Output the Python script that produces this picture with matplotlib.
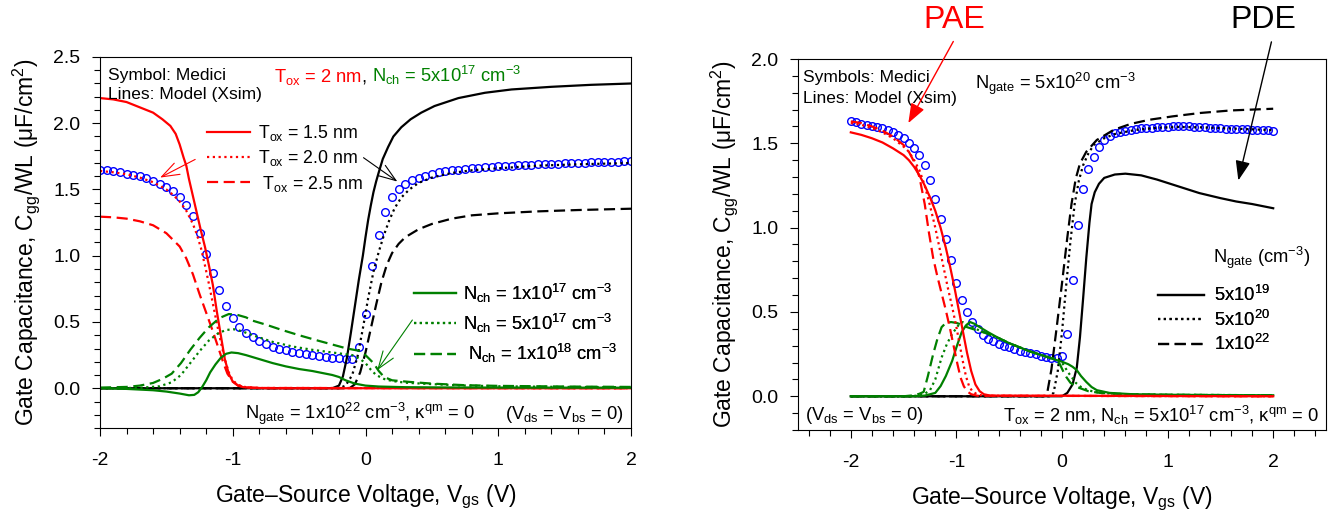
import numpy as np
import matplotlib
matplotlib.use('Agg')
import matplotlib.pyplot as plt
from matplotlib.lines import Line2D
from matplotlib.ticker import MultipleLocator, FormatStrFormatter

plt.rcParams['font.family'] = ['Liberation Sans', 'DejaVu Sans']
plt.rcParams['mathtext.fontset'] = 'custom'
plt.rcParams['mathtext.rm'] = 'Liberation Sans'
plt.rcParams['mathtext.it'] = 'Liberation Sans:italic'
plt.rcParams['mathtext.bf'] = 'Liberation Sans:bold'
plt.rcParams['mathtext.default'] = 'regular'
plt.rcParams['axes.unicode_minus'] = False

RED, GREEN, BLUE = '#ff0000', '#008000', '#0000ff'
DOT = (0, (1, 1.6))
DASH = (0, (5, 2.5))

# Medici sweep (symbols), same Vgs grid in both panels
vgs_medici = np.round(np.arange(-2.0, 2.001, 0.05), 2)

# ---------------- left panel: Tox / Nch sweep ----------------
cgg_medici_left = [1.65, 1.645, 1.64, 1.63, 1.62, 1.61, 1.60, 1.585, 1.565, 1.545,
                   1.52, 1.485, 1.44, 1.38, 1.30, 1.17, 1.01, 0.87, 0.74, 0.62,
                   0.53, 0.46, 0.42, 0.39, 0.36, 0.335, 0.315, 0.30, 0.285, 0.275,
                   0.265, 0.255, 0.248, 0.24, 0.235, 0.23, 0.225, 0.22, 0.22, 0.31,
                   0.56, 0.92, 1.16, 1.33, 1.44, 1.50, 1.54, 1.57, 1.59, 1.605,
                   1.62, 1.63, 1.64, 1.645, 1.65, 1.655, 1.66, 1.665, 1.67, 1.672,
                   1.675, 1.678, 1.68, 1.683, 1.685, 1.688, 1.69, 1.692, 1.694, 1.696,
                   1.698, 1.70, 1.702, 1.703, 1.705, 1.706, 1.708, 1.709, 1.71, 1.712,
                   1.713]

# accumulation (red), Tox = 1.5 / 2.0 / 2.5 nm
v_acc_15 = [-2.0, -1.9, -1.8, -1.7, -1.6, -1.53, -1.47, -1.43, -1.40, -1.37, -1.35, -1.33, -1.30, -1.27,
            -1.24, -1.21, -1.18, -1.15, -1.12, -1.09, -1.06, -1.03, -1.00, -0.96, -0.92, -0.85, -0.7, 2.0]
c_acc_15 = [2.19, 2.18, 2.16, 2.12, 2.08, 2.03, 1.98, 1.92, 1.84, 1.74, 1.68, 1.58, 1.45, 1.32,
            1.19, 1.07, 0.93, 0.78, 0.58, 0.40, 0.22, 0.11, 0.05, 0.02, 0.008, 0.003, 0.0, 0.0]
v_acc_20 = [-2.0, -1.9, -1.8, -1.7, -1.6, -1.5, -1.45, -1.4, -1.35, -1.3, -1.27, -1.24, -1.21, -1.18,
            -1.15, -1.12, -1.09, -1.06, -1.03, -1.0, -0.96, -0.9, -0.8, 2.0]
c_acc_20 = [1.64, 1.63, 1.615, 1.59, 1.555, 1.50, 1.46, 1.41, 1.34, 1.24, 1.16, 1.06, 0.93, 0.79,
            0.64, 0.49, 0.35, 0.22, 0.12, 0.06, 0.025, 0.008, 0.002, 0.0]
v_acc_25 = [-2.0, -1.9, -1.8, -1.7, -1.6, -1.55, -1.5, -1.45, -1.4, -1.35, -1.3, -1.25, -1.2, -1.15,
            -1.1, -1.07, -1.04, -1.0, -0.96, -0.9, -0.8, 2.0]
c_acc_25 = [1.295, 1.29, 1.28, 1.26, 1.23, 1.20, 1.17, 1.12, 1.07, 0.98, 0.86, 0.71, 0.57, 0.43,
            0.28, 0.19, 0.11, 0.05, 0.02, 0.007, 0.002, 0.0]

# inversion (black), Tox = 1.5 / 2.0 / 2.5 nm
v_inv_15 = [-2.0, -0.25, -0.2, -0.17, -0.14, -0.11, -0.08, -0.05, -0.02, 0.0, 0.02, 0.04, 0.06, 0.08,
            0.1, 0.13, 0.17, 0.21, 0.27, 0.34, 0.42, 0.52, 0.7, 0.9, 1.1, 1.4, 1.7, 2.0]
c_inv_15 = [0.0, 0.0, 0.02, 0.09, 0.23, 0.42, 0.62, 0.82, 1.0, 1.14, 1.27, 1.38, 1.48, 1.56,
            1.63, 1.73, 1.82, 1.90, 1.97, 2.03, 2.08, 2.13, 2.19, 2.23, 2.255, 2.275, 2.29, 2.30]
v_inv_20 = [-2.0, -0.2, -0.15, -0.1, -0.06, -0.02, 0.02, 0.06, 0.1, 0.14, 0.18, 0.22, 0.27, 0.33,
            0.4, 0.5, 0.65, 0.8, 1.0, 1.3, 1.6, 2.0]
c_inv_20 = [0.0, 0.0, 0.02, 0.1, 0.24, 0.45, 0.68, 0.88, 1.03, 1.16, 1.27, 1.36, 1.44, 1.50,
            1.55, 1.59, 1.625, 1.645, 1.66, 1.68, 1.69, 1.70]
v_inv_25 = [-2.0, -0.12, -0.08, -0.04, 0.0, 0.04, 0.08, 0.12, 0.16, 0.2, 0.25, 0.3, 0.4, 0.5,
            0.65, 0.8, 1.0, 1.3, 1.6, 2.0]
c_inv_25 = [0.0, 0.0, 0.03, 0.12, 0.27, 0.45, 0.63, 0.80, 0.93, 1.02, 1.09, 1.14, 1.20, 1.24,
            1.28, 1.305, 1.32, 1.335, 1.345, 1.355]

# depletion (green), Nch = 1e17 / 5e17 / 1e18
v_dep_1e17 = [-2.0, -1.8, -1.6, -1.5, -1.4, -1.33, -1.29, -1.26, -1.23, -1.2, -1.17, -1.13, -1.09,
              -1.05, -1.01, -0.96, -0.9, -0.8, -0.7, -0.6, -0.5, -0.4, -0.3, -0.25, -0.2, -0.15,
              -0.08, 0.0, 0.1, 0.3, 0.6, 1.0, 2.0]
c_dep_1e17 = [0.0, -0.005, -0.015, -0.025, -0.04, -0.053, -0.05, -0.03, 0.01, 0.06, 0.12, 0.18, 0.23,
              0.26, 0.27, 0.265, 0.25, 0.22, 0.19, 0.165, 0.145, 0.13, 0.11, 0.10, 0.085, 0.06,
              0.035, 0.02, 0.013, 0.008, 0.006, 0.005, 0.004]
v_dep_5e17 = [-2.0, -1.7, -1.55, -1.46, -1.39, -1.32, -1.25, -1.18, -1.11, -1.05, -0.99, -0.93, -0.85,
              -0.7, -0.55, -0.4, -0.25, -0.1, -0.04, 0.0, 0.04, 0.08, 0.14, 0.2, 0.3, 0.46, 0.7, 1.0,
              1.5, 2.0]
c_dep_5e17 = [0.0, 0.003, 0.015, 0.045, 0.10, 0.19, 0.28, 0.36, 0.415, 0.44, 0.445, 0.43, 0.40,
              0.35, 0.315, 0.29, 0.27, 0.25, 0.22, 0.19, 0.14, 0.10, 0.07, 0.055, 0.042, 0.033, 0.022,
              0.015, 0.01, 0.008]
v_dep_1e18 = [-2.0, -1.8, -1.7, -1.6, -1.53, -1.46, -1.39, -1.32, -1.25, -1.18, -1.1, -1.03, -0.97,
              -0.9, -0.85, -0.75, -0.63, -0.5, -0.36, -0.25, -0.14, -0.06, -0.03, 0.0, 0.03, 0.06,
              0.1, 0.14, 0.2, 0.33, 0.5, 0.75, 1.0, 1.5, 2.0]
c_dep_1e18 = [0.005, 0.01, 0.02, 0.04, 0.07, 0.11, 0.19, 0.29, 0.38, 0.46, 0.53, 0.56, 0.555,
              0.535, 0.51, 0.48, 0.44, 0.40, 0.36, 0.33, 0.30, 0.285, 0.275, 0.25, 0.22, 0.19,
              0.13, 0.085, 0.06, 0.048, 0.035, 0.023, 0.018, 0.013, 0.01]

# ---------------- right panel: Ngate sweep ----------------
cgg_medici_right = [1.63, 1.625, 1.615, 1.61, 1.60, 1.595, 1.59, 1.58, 1.565, 1.55,
                    1.53, 1.50, 1.47, 1.43, 1.37, 1.28, 1.17, 1.05, 0.93, 0.81,
                    0.67, 0.57, 0.50, 0.44, 0.40, 0.365, 0.34, 0.325, 0.31, 0.30,
                    0.29, 0.28, 0.27, 0.262, 0.255, 0.248, 0.24, 0.235, 0.228, 0.224,
                    0.24, 0.37, 0.69, 1.015, 1.23, 1.345, 1.42, 1.48, 1.52, 1.545,
                    1.56, 1.57, 1.575, 1.58, 1.585, 1.588, 1.59, 1.593, 1.595, 1.597,
                    1.598, 1.60, 1.60, 1.60, 1.60, 1.598, 1.597, 1.595, 1.593, 1.59,
                    1.588, 1.587, 1.585, 1.584, 1.583, 1.582, 1.58, 1.579, 1.578, 1.577,
                    1.575]

v_acc_5e19 = [-2.0, -1.9, -1.8, -1.7, -1.6, -1.5, -1.45, -1.4, -1.35, -1.3, -1.25, -1.2, -1.15,
              -1.1, -1.06, -1.02, -0.98, -0.94, -0.9, -0.86, -0.82, -0.78, -0.74, -0.68, 2.0]
c_acc_5e19 = [1.565, 1.55, 1.53, 1.505, 1.47, 1.43, 1.40, 1.36, 1.31, 1.25, 1.18, 1.10, 1.00,
              0.88, 0.77, 0.65, 0.52, 0.39, 0.26, 0.15, 0.07, 0.03, 0.012, 0.004, 0.0]
v_acc_5e20 = [-2.0, -1.9, -1.8, -1.7, -1.6, -1.5, -1.45, -1.4, -1.35, -1.3, -1.25, -1.2, -1.16,
              -1.12, -1.08, -1.04, -1.0, -0.97, -0.94, -0.91, -0.88, -0.85, -0.8, -0.74, 2.0]
c_acc_5e20 = [1.62, 1.61, 1.59, 1.565, 1.53, 1.48, 1.45, 1.40, 1.34, 1.25, 1.13, 1.00, 0.88,
              0.76, 0.64, 0.53, 0.41, 0.31, 0.21, 0.12, 0.06, 0.03, 0.01, 0.003, 0.0]
v_acc_1e22 = [-2.0, -1.9, -1.8, -1.7, -1.6, -1.5, -1.45, -1.4, -1.35, -1.3, -1.26, -1.22, -1.18,
              -1.14, -1.1, -1.06, -1.02, -0.99, -0.96, -0.93, -0.9, -0.86, -0.8, 2.0]
c_acc_1e22 = [1.63, 1.62, 1.60, 1.575, 1.54, 1.49, 1.45, 1.39, 1.30, 1.14, 0.97, 0.82, 0.71,
              0.61, 0.51, 0.40, 0.28, 0.19, 0.11, 0.06, 0.03, 0.012, 0.003, 0.0]

v_inv_5e19 = [-2.0, 0.0, 0.05, 0.1, 0.14, 0.17, 0.2, 0.23, 0.26, 0.28, 0.31, 0.35, 0.4, 0.5, 0.6,
              0.75, 0.9, 1.0, 1.15, 1.3, 1.5, 1.65, 1.8, 2.0]
c_inv_5e19 = [0.0, 0.0, 0.02, 0.07, 0.17, 0.35, 0.58, 0.82, 1.03, 1.14, 1.21, 1.26, 1.295, 1.315,
              1.32, 1.31, 1.285, 1.265, 1.235, 1.205, 1.175, 1.155, 1.14, 1.115]
v_inv_5e20 = [-2.0, -0.12, -0.08, -0.04, 0.0, 0.04, 0.08, 0.12, 0.16, 0.2, 0.25, 0.3, 0.4, 0.5,
              0.7, 0.9, 1.1, 1.3, 1.6, 2.0]
c_inv_5e20 = [0.0, 0.0, 0.02, 0.15, 0.38, 0.66, 0.92, 1.14, 1.28, 1.37, 1.44, 1.49, 1.53, 1.555,
              1.58, 1.592, 1.597, 1.595, 1.588, 1.578]
v_inv_1e22 = [-2.0, -0.17, -0.14, -0.1, -0.05, 0.0, 0.05, 0.09, 0.13, 0.17, 0.23, 0.33, 0.49,
              0.65, 0.83, 1.05, 1.31, 1.6, 2.0]
c_inv_1e22 = [0.0, 0.0, 0.02, 0.16, 0.41, 0.67, 0.94, 1.14, 1.29, 1.38, 1.45, 1.52, 1.58,
              1.615, 1.64, 1.66, 1.68, 1.695, 1.705]

v_dep_5e19 = [-2.0, -1.4, -1.3, -1.2, -1.15, -1.1, -1.04, -1.0, -0.95, -0.91, -0.87, -0.83, -0.78,
              -0.7, -0.6, -0.5, -0.4, -0.3, -0.2, -0.1, -0.05, 0.0, 0.06, 0.1, 0.14, 0.18, 0.23,
              0.28, 0.33, 0.45, 0.67, 1.0, 1.5, 2.0]
c_dep_5e19 = [0.0, 0.0, 0.004, 0.02, 0.06, 0.12, 0.21, 0.29, 0.38, 0.42, 0.44, 0.43, 0.41,
              0.38, 0.345, 0.315, 0.29, 0.265, 0.245, 0.225, 0.214, 0.205, 0.19, 0.175, 0.155, 0.12,
              0.085, 0.055, 0.036, 0.02, 0.012, 0.009, 0.007, 0.006]
v_dep_5e20 = [-2.0, -1.45, -1.35, -1.3, -1.25, -1.2, -1.14, -1.09, -1.04, -0.97, -0.94, -0.9, -0.85,
              -0.8, -0.7, -0.6, -0.5, -0.4, -0.3, -0.2, -0.1, -0.05, 0.0, 0.03, 0.06, 0.09, 0.13,
              0.18, 0.25, 0.36, 0.6, 1.0, 2.0]
c_dep_5e20 = [0.0, 0.0, 0.005, 0.015, 0.036, 0.10, 0.23, 0.31, 0.37, 0.43, 0.44, 0.43, 0.41,
              0.395, 0.37, 0.345, 0.315, 0.29, 0.265, 0.245, 0.228, 0.22, 0.20, 0.17, 0.14, 0.115,
              0.08, 0.055, 0.035, 0.02, 0.012, 0.009, 0.006]
v_dep_1e22 = [-2.0, -1.5, -1.4, -1.35, -1.31, -1.27, -1.22, -1.18, -1.14, -1.1, -1.05, -1.0, -0.95,
              -0.9, -0.85, -0.8, -0.7, -0.6, -0.5, -0.4, -0.3, -0.2, -0.1, -0.05, -0.02, 0.01, 0.04,
              0.08, 0.14, 0.25, 0.36, 0.6, 1.0, 2.0]
c_dep_1e22 = [0.0, 0.0, 0.006, 0.015, 0.026, 0.12, 0.25, 0.34, 0.41, 0.435, 0.44, 0.435, 0.425,
              0.41, 0.40, 0.39, 0.37, 0.345, 0.315, 0.29, 0.265, 0.245, 0.225, 0.21, 0.19, 0.15,
              0.115, 0.08, 0.055, 0.03, 0.02, 0.012, 0.009, 0.006]

tox_labels = ['$T_{ox}$ = 1.5 nm', '$T_{ox}$ = 2.0 nm', ' $T_{ox}$ = 2.5 nm']
nch_labels = ['$N_{ch}$ = 1x10$^{17}$ cm$^{-3}$', '$N_{ch}$ = 5x10$^{17}$ cm$^{-3}$',
              ' $N_{ch}$ = 1x10$^{18}$ cm$^{-3}$']
ngate_labels = ['5x10$^{19}$', '5x10$^{20}$', '1x10$^{22}$']
styles = ['-', DOT, DASH]

LW = 1.6
FS = 12.5      # plain annotation text
FSM = 13.2     # text with sub/superscripts

fig = plt.figure(figsize=(13.32, 5.17), dpi=100)
axL = fig.add_axes([100 / 1332, 89 / 517, 531 / 1332, 371 / 517])
axR = fig.add_axes([798 / 1332, 87 / 517, 528 / 1332, 371 / 517])


def setup(ax, xlim, ylim):
    ax.set_xlim(xlim)
    ax.set_ylim(ylim)
    ax.xaxis.set_major_locator(MultipleLocator(1))
    ax.xaxis.set_minor_locator(MultipleLocator(0.2))
    ax.yaxis.set_major_locator(MultipleLocator(0.5))
    ax.yaxis.set_minor_locator(MultipleLocator(0.1))
    ax.yaxis.set_major_formatter(FormatStrFormatter('%.1f'))
    ax.tick_params(which='both', direction='out', top=False, right=False, width=0.8, labelsize=14)
    ax.tick_params(which='major', length=6)
    ax.tick_params(which='minor', length=4)
    ax.tick_params(axis='x', pad=11)
    ax.tick_params(axis='y', pad=8)
    for s in ax.spines.values():
        s.set_linewidth(0.8)
    ax.set_xlabel('Gate\u2013Source Voltage, $V_{gs}$ (V)', fontsize=16.5)
    ax.set_ylabel('Gate Capacitance, $C_{gg}$/WL (\u03bcF/cm$^2$)', fontsize=16.5)
    ax.xaxis.set_label_coords(0.5, -0.148)
    ax.yaxis.set_label_coords(-0.11, 0.5)


def chain_text(ax, x, y, parts, size):
    # several colours on one baseline, each piece placed after the previous one
    fig = ax.figure
    fig.canvas.draw()
    r = fig.canvas.get_renderer()
    px, py = ax.transData.transform((x, y))
    for text, color, gap in parts:
        t = fig.text(px / fig.bbox.width, py / fig.bbox.height, text, color=color,
                     fontsize=size, va='baseline', ha='left')
        px = t.get_window_extent(r).x1 + gap


# ---------- left ----------
setup(axL, (-2, 2), (-0.3, 2.5))
axL.plot(vgs_medici, cgg_medici_left, 'o', mfc='none', mec=BLUE, ms=5.5, mew=1.0)
for v, c, ls in [(v_inv_15, c_inv_15, '-'), (v_inv_20, c_inv_20, DOT), (v_inv_25, c_inv_25, DASH)]:
    axL.plot(v, c, color='black', lw=LW, ls=ls)
for v, c, ls in [(v_acc_15, c_acc_15, '-'), (v_acc_20, c_acc_20, DOT), (v_acc_25, c_acc_25, DASH)]:
    axL.plot(v, c, color=RED, lw=LW, ls=ls)
for v, c, ls in [(v_dep_1e17, c_dep_1e17, '-'), (v_dep_5e17, c_dep_5e17, DOT), (v_dep_1e18, c_dep_1e18, DASH)]:
    axL.plot(v, c, color=GREEN, lw=LW, ls=ls)

leg = axL.legend([Line2D([], [], color=RED, lw=LW, ls=s) for s in styles], tox_labels,
                 loc='center left', bbox_to_anchor=(-1.195, 1.735), bbox_transform=axL.transData,
                 frameon=False, borderpad=0, borderaxespad=0, handlelength=2.4,
                 handletextpad=0.5, labelspacing=0.3, fontsize=12.8)
axL.add_artist(leg)
leg = axL.legend([Line2D([], [], color=GREEN, lw=LW, ls=s) for s in styles], nch_labels,
                 loc='center left', bbox_to_anchor=(0.368, 0.49), bbox_transform=axL.transData,
                 frameon=False, borderpad=0, borderaxespad=0, handlelength=2.25,
                 handletextpad=0.42, labelspacing=0.38, fontsize=FSM)
axL.add_artist(leg)

axL.text(-1.937, 2.33, 'Symbol: Medici', fontsize=FS, va='baseline')
axL.text(-1.937, 2.18, 'Lines: Model (Xsim)', fontsize=FS, va='baseline')
axL.text(-0.911, -0.23, '$N_{gate}$ = 1x10$^{22}$ cm$^{-3}$, \u03ba$^{qm}$ = 0', fontsize=FSM, va='baseline')
axL.text(1.94, -0.23, '($V_{ds}$ = $V_{bs}$ = 0)', fontsize=FSM, va='baseline', ha='right')

thin = dict(lw=0.8, mutation_scale=18, shrinkA=0, shrinkB=0)
axL.annotate('', xy=(-1.547, 1.59), xytext=(-1.283, 1.727),
             arrowprops=dict(arrowstyle='->,head_length=0.7,head_width=0.25', color=RED, **thin))
axL.annotate('', xy=(0.24, 1.56), xytext=(-0.015, 1.74),
             arrowprops=dict(arrowstyle='->,head_length=0.7,head_width=0.25', color='black', **thin))
axL.annotate('', xy=(0.088, 0.136), xytext=(0.353, 0.515),
             arrowprops=dict(arrowstyle='->,head_length=0.7,head_width=0.25', color=GREEN, **thin))

# ---------- right ----------
setup(axR, (-2.5, 2.5), (-0.2, 2.0))
axR.plot(vgs_medici, cgg_medici_right, 'o', mfc='none', mec=BLUE, ms=5.5, mew=1.0)
for v, c, ls in [(v_inv_5e19, c_inv_5e19, '-'), (v_inv_5e20, c_inv_5e20, DOT), (v_inv_1e22, c_inv_1e22, DASH)]:
    axR.plot(v, c, color='black', lw=LW, ls=ls)
for v, c, ls in [(v_dep_5e19, c_dep_5e19, '-'), (v_dep_5e20, c_dep_5e20, DOT), (v_dep_1e22, c_dep_1e22, DASH)]:
    axR.plot(v, c, color=GREEN, lw=LW, ls=ls)
for v, c, ls in [(v_acc_5e19, c_acc_5e19, '-'), (v_acc_5e20, c_acc_5e20, DOT), (v_acc_1e22, c_acc_1e22, DASH)]:
    axR.plot(v, c, color=RED, lw=LW, ls=ls)

leg = axR.legend([Line2D([], [], color='black', lw=LW, ls=s) for s in styles], ngate_labels,
                 loc='center left', bbox_to_anchor=(0.91, 0.454), bbox_transform=axR.transData,
                 frameon=False, borderpad=0, borderaxespad=0, handlelength=2.5,
                 handletextpad=0.55, labelspacing=0.25, fontsize=FSM)
axR.add_artist(leg)
axR.text(1.43, 0.788, '$N_{gate}$ (cm$^{-3}$)', fontsize=FSM, va='baseline')

axR.text(-2.45, 1.865, 'Symbols: Medici', fontsize=FS, va='baseline')
axR.text(-2.45, 1.74, 'Lines: Model (Xsim)', fontsize=FS, va='baseline')
axR.text(-0.82, 1.82, '$N_{gate}$ = 5x10$^{20}$ cm$^{-3}$', fontsize=FSM, va='baseline')
axR.text(-2.43, -0.142, '($V_{ds}$ = $V_{bs}$ = 0)', fontsize=FSM, va='baseline')
axR.text(2.44, -0.152, '$T_{ox}$ = 2 nm, $N_{ch}$ = 5x10$^{17}$ cm$^{-3}$, \u03ba$^{qm}$ = 0',
         fontsize=FSM, va='baseline', ha='right')

axR.annotate('PAE', xy=(-1.455, 1.62), xytext=(0.295, 1.105), textcoords='axes fraction',
             ha='center', va='center', fontsize=23, color=RED, annotation_clip=False,
             arrowprops=dict(arrowstyle='-|>,head_length=0.8,head_width=0.3', color=RED, lw=1,
                             mutation_scale=15, shrinkA=3, shrinkB=0, relpos=(0.55, 0)))
axR.annotate('PDE', xy=(1.67, 1.28), xytext=(0.881, 1.105), textcoords='axes fraction',
             ha='center', va='center', fontsize=23, color='black', annotation_clip=False,
             arrowprops=dict(arrowstyle='-|>,head_length=0.8,head_width=0.3', color='black', lw=1,
                             mutation_scale=15, shrinkA=3, shrinkB=0, relpos=(0.65, 0)))

chain_text(axL, -0.692, 2.31, [('$T_{ox}$ = 2 nm', RED, 0), (',', 'black', 5),
                               ('$N_{ch}$ = 5x10$^{17}$ cm$^{-3}$', GREEN, 0)], FSM)

fig.savefig('out.png', dpi=100)
